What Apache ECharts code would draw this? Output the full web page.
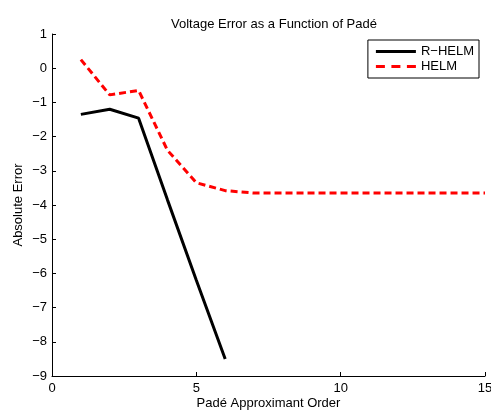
<!DOCTYPE html>
<html><head><meta charset="utf-8">
<script src="https://cdn.jsdelivr.net/npm/echarts@6/dist/echarts.min.js"></script>
<style>html,body{margin:0;padding:0;background:#fff}#c{width:491px;height:411px}</style>
</head><body><div id="c"></div>
<script>
const orders = [1,2,3,4,5,6,7,8,9,10,11,12,13,14,15];
const rhelm = [-1.35,-1.2,-1.46,-3.85,-6.2,-8.5];
const helm = [0.25,-0.78,-0.65,-2.4,-3.35,-3.58,-3.65,-3.65,-3.65,-3.65,-3.65,-3.65,-3.65,-3.65,-3.65];
const xTicks = {min:0,max:15,interval:5};
const yTicks = {min:-9,max:1,interval:1};
const font = 'Liberation Sans, Arial, sans-serif';
const fmt = v => String(v).replace('-', '\u2212');
const chart = echarts.init(document.getElementById('c'), null, {renderer:'canvas'});
chart.setOption({
  animation:false,
  backgroundColor:'#fff',
  title:{text:'Voltage Error as a Function of Padé',left:269,top:13,textAlign:'center',
    textStyle:{fontFamily:font,fontSize:13,fontWeight:'normal',color:'#000'}},
  grid:{left:52,right:6,top:34,bottom:35,containLabel:false,outerBoundsMode:'none'},
  legend:{orient:'vertical',right:12,top:40,itemWidth:40,itemHeight:3,itemGap:2,
    padding:[5,5,5,8],borderColor:'#000',borderWidth:1,borderRadius:0,backgroundColor:'#fff',
    textStyle:{fontFamily:font,fontSize:13,color:'#000',padding:[0,0,0,0],lineHeight:13},
    data:[{name:'R\u2212HELM',icon:'path://M0,0H40V3H0Z',itemStyle:{color:'#000'}},
          {name:'HELM',icon:'path://M0,0H9V3H0ZM15.5,0H24.5V3H15.5ZM31,0H40V3H31Z',itemStyle:{color:'#ff0000'}}]},
  xAxis:{type:'value',min:xTicks.min,max:xTicks.max,interval:xTicks.interval,
    name:'Padé Approximant Order',nameLocation:'middle',nameGap:21,nameMoveOverlap:false,
    nameTextStyle:{fontFamily:font,fontSize:13,color:'#000',verticalAlign:'top'},
    axisLine:{onZero:false,lineStyle:{color:'#000',width:1}},
    axisTick:{inside:true,length:4,lineStyle:{color:'#000'}},
    axisLabel:{fontFamily:font,fontSize:13,color:'#000',margin:6,formatter:fmt},
    splitLine:{show:false}},
  yAxis:{type:'value',min:yTicks.min,max:yTicks.max,interval:yTicks.interval,
    name:'Absolute Error',nameLocation:'middle',nameGap:27,nameMoveOverlap:false,
    nameTextStyle:{fontFamily:font,fontSize:13,color:'#000'},
    axisLine:{show:true,onZero:false,lineStyle:{color:'#000',width:1}},
    axisTick:{show:true,inside:true,length:4,lineStyle:{color:'#000'}},
    axisLabel:{fontFamily:font,fontSize:13,color:'#000',margin:5,formatter:fmt},
    splitLine:{show:false}},
  series:[
    {name:'R\u2212HELM',type:'line',symbol:'none',data:rhelm.map((v,i)=>[orders[i],v]),
      lineStyle:{color:'#000',width:3},itemStyle:{color:'#000'}},
    {name:'HELM',type:'line',symbol:'none',data:helm.map((v,i)=>[orders[i],v]),
      lineStyle:{color:'#ff0000',width:3,type:[7,4]},itemStyle:{color:'#ff0000'}}
  ]
});
</script></body></html>
